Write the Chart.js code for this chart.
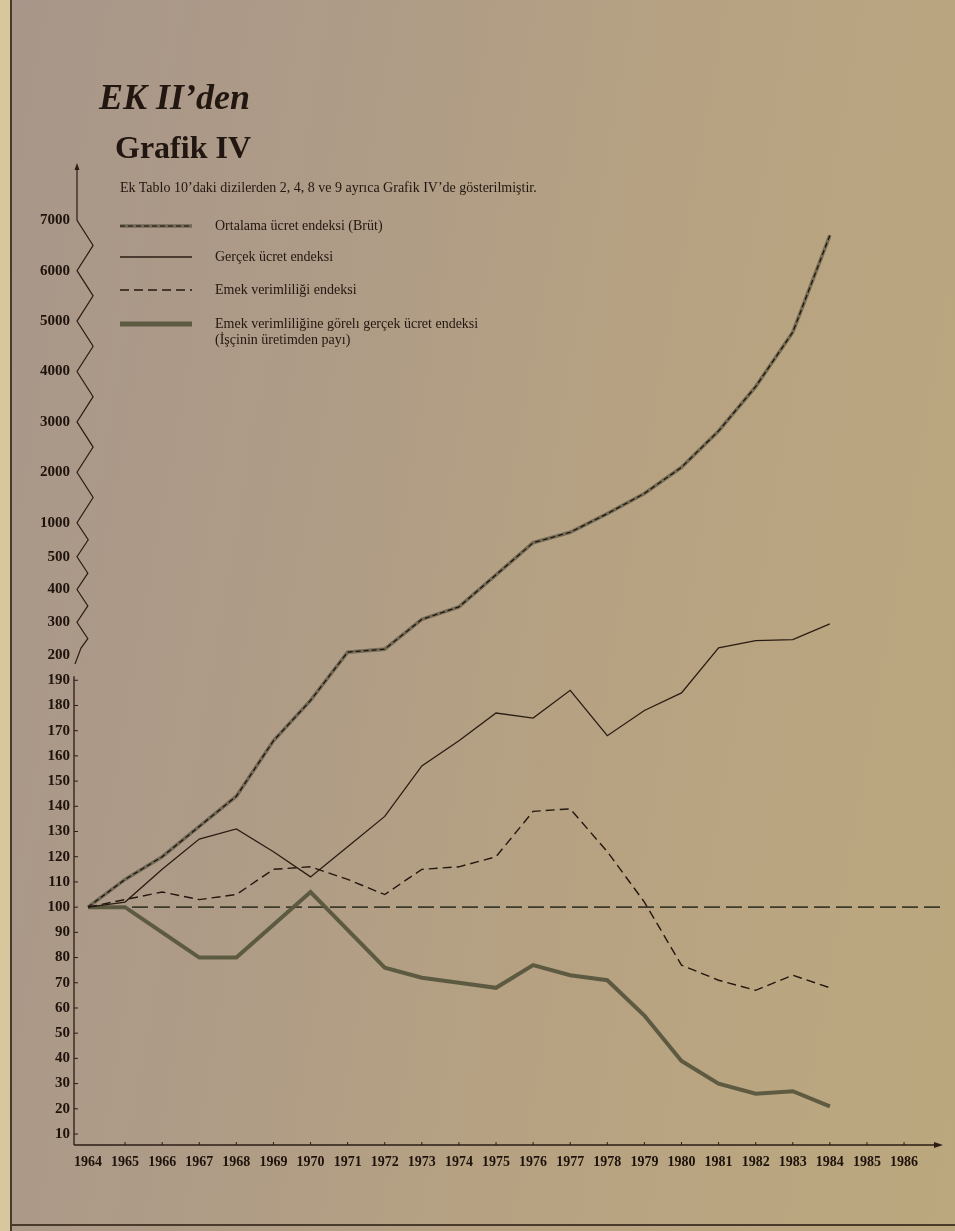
<!DOCTYPE html>
<html><head><meta charset="utf-8">
<script src="https://cdn.jsdelivr.net/npm/chart.js@4.4.1/dist/chart.umd.min.js"></script>
<style>
html,body{margin:0;padding:0;}
body{width:955px;height:1231px;overflow:hidden;position:relative;
 background:linear-gradient(100deg,#a8968a 0%,#ae9b87 30%,#b6a282 60%,#bca87e 100%);
 font-family:"Liberation Serif",serif;color:#221610;}
#strip{position:absolute;left:0;top:0;width:10px;height:1231px;background:#d8c69c;border-right:2px solid #4a3a2c;}
#bline{position:absolute;left:10px;right:0;top:1224px;border-top:2px solid #4a3a2c;}
canvas{position:absolute;left:0;top:0;}
.t{position:absolute;white-space:nowrap;line-height:1;}
#title{left:99px;top:79px;font-style:italic;font-weight:bold;font-size:36px;}
#grafik{left:115px;top:131px;font-weight:bold;font-size:32px;}
#sub{left:120px;top:181px;font-size:14px;}
#legend{position:absolute;left:120px;top:0;}
.li{position:absolute;left:0;white-space:nowrap;font-size:14px;line-height:16px;}
.li svg{position:absolute;left:0;}
.li span{position:absolute;left:95px;top:0;}
</style></head>
<body>
<div id="strip"></div><div id="bline"></div>
<canvas id="c" width="955" height="1231"></canvas>
<div class="t" id="title">EK II’den</div>
<div class="t" id="grafik">Grafik IV</div>
<div class="t" id="sub">Ek Tablo 10’daki dizilerden 2, 4, 8 ve 9 ayrıca Grafik IV’de gösterilmiştir.</div>
<div id="legend"></div>
<script>
// ---- data ----
const years = [1964,1965,1966,1967,1968,1969,1970,1971,1972,1973,1974,1975,1976,1977,1978,1979,1980,1981,1982,1983,1984];
const ortalamaBrut = [100,111,120,132,144,166,182,209,218,309,347,445,706,860,1180,1580,2100,2820,3700,4780,6700];
const gercekUcret = [100,102,115,127,131,122,112,124,136,156,166,177,175,186,168,178,185,222,244,247,295];
const emekVerim = [100,103,106,103,105,115,116,111,105,115,116,120,138,139,122,102,77,71,67,73,68];
const goreliUcret = [100,100,90,80,80,93,106,91,76,72,70,68,77,73,71,57,39,30,26,27,21];
const baseline = [100,100];
const xTickLabels = [1964,1965,1966,1967,1968,1969,1970,1971,1972,1973,1974,1975,1976,1977,1978,1979,1980,1981,1982,1983,1984,1985,1986];
const yTickValues = [10,20,30,40,50,60,70,80,90,100,110,120,130,140,150,160,170,180,190,200,300,400,500,1000,2000,3000,4000,5000,6000,7000];
const yTickLabels = yTickValues.map(String);
const legendLabels = ['Ortalama ücret endeksi (Brüt)','Gerçek ücret endeksi','Emek verimliliği endeksi',
  'Emek verimliliğine görelı gerçek ücret endeksi|(İşçinin üretimden payı)'];

// broken (piecewise) value axis definition
const axisBreaks = [[0,0],[200,20],[500,23.9],[1000,25.25],[7000,37.25]];
function toU(v){
  for(let i=0;i<axisBreaks.length-1;i++){
    const [v0,u0]=axisBreaks[i],[v1,u1]=axisBreaks[i+1];
    if(v<=v1||i===axisBreaks.length-2) return u0+(v-v0)/(v1-v0)*(u1-u0);
  }
}
const pts = arr => arr.map((v,i)=>({x:years[i],y:toU(v)}));

const styles = {
  ortalamaBase:{color:'rgba(78,74,56,0.62)',width:3.6,dash:[]},
  ortalamaDash:{color:'#1c120b',width:1.2,dash:[5,3]},
  gercek:{color:'#2a1c13',width:1.3,dash:[]},
  emek:{color:'#24170f',width:1.4,dash:[9,5]},
  goreli:{color:'rgba(88,86,62,0.95)',width:4,dash:[]},
  base:{color:'#3c3a2a',width:1.6,dash:[16,6]}
};
const ln = (label,data,s,order)=>({label,data,borderColor:s.color,borderWidth:s.width,borderDash:s.dash,
  pointRadius:0,tension:0,fill:false,order});

const X0min = 1963.65, Xmax = 1987.05;
const datasets = [
  ln('_base',[{x:years[0],y:toU(baseline[0])},{x:Xmax,y:toU(baseline[1])}],styles.base,6),
  ln(legendLabels[3],pts(goreliUcret),styles.goreli,5),
  ln(legendLabels[0],pts(ortalamaBrut),styles.ortalamaBase,4),
  ln('_ortDash',pts(ortalamaBrut),styles.ortalamaDash,3),
  ln(legendLabels[1],pts(gercekUcret),styles.gercek,2),
  ln(legendLabels[2],pts(emekVerim),styles.emek,1)
];

// legend (HTML text, samples from dataset styles)
const legendRows = [
  {label:legendLabels[0],sty:[styles.ortalamaBase,styles.ortalamaDash],y:226},
  {label:legendLabels[1],sty:[styles.gercek],y:257},
  {label:legendLabels[2],sty:[styles.emek],y:290},
  {label:legendLabels[3],sty:[{color:styles.goreli.color,width:5,dash:[]}],y:324}
];
const lg=document.getElementById('legend');
legendRows.forEach(r=>{
  const d=document.createElement('div');d.className='li';d.style.top=(r.y-8)+'px';
  const lines=r.sty.map(s=>`<line x1="0" y1="8" x2="72" y2="8" stroke="${s.color}" stroke-width="${s.width}" stroke-dasharray="${s.dash.join(' ')}"/>`).join('');
  d.innerHTML=`<svg width="74" height="16">${lines}</svg><span>${r.label.split('|').join('<br>')}</span>`;
  lg.appendChild(d);
});

const ink='#2b1d14';
const axisPlugin={
  id:'handAxis',
  afterDraw(chart){
    const {ctx,chartArea:a,scales:{x,y}}=chart;
    const X0=a.left-1;
    const py=v=>y.getPixelForValue(toU(v));
    ctx.save();
    ctx.strokeStyle=ink;ctx.fillStyle=ink;ctx.lineWidth=1.3;
    ctx.beginPath();ctx.moveTo(X0,a.bottom);ctx.lineTo(X0,py(190)-4);ctx.stroke();
    ctx.lineWidth=1;
    yTickValues.filter(v=>v<=190).forEach(v=>{ctx.beginPath();ctx.moveTo(X0,py(v));ctx.lineTo(X0+4,py(v));ctx.stroke();});
    // break + zigzag
    ctx.lineWidth=1.2;
    const up=yTickValues.filter(v=>v>=200);
    ctx.beginPath();
    ctx.moveTo(X0+1,py(200)+9);ctx.lineTo(X0+7,py(200)-7);
    for(let i=0;i<up.length-1;i++){
      const ya=py(up[i]),yb=py(up[i+1]),gap=ya-yb;
      ctx.lineTo(X0+4+gap*0.3,(ya+yb)/2);ctx.lineTo(X0+3,yb);
    }
    ctx.lineTo(X0+3,a.top+4);ctx.stroke();
    ctx.beginPath();ctx.moveTo(X0+3,a.top);ctx.lineTo(X0+0.5,a.top+7);ctx.lineTo(X0+5.5,a.top+7);ctx.closePath();ctx.fill();
    // x axis
    ctx.lineWidth=1.3;
    ctx.beginPath();ctx.moveTo(X0,a.bottom);ctx.lineTo(a.right-4,a.bottom);ctx.stroke();
    ctx.beginPath();ctx.moveTo(a.right,a.bottom);ctx.lineTo(a.right-9,a.bottom-3);ctx.lineTo(a.right-9,a.bottom+3);ctx.closePath();ctx.fill();
    ctx.lineWidth=1;
    xTickLabels.slice(1).forEach(t=>{const px=x.getPixelForValue(t);ctx.beginPath();ctx.moveTo(px,a.bottom);ctx.lineTo(px,a.bottom-3);ctx.stroke();});
    ctx.restore();
  }
};

new Chart(document.getElementById('c'),{
  type:'line',
  data:{datasets},
  options:{
    responsive:false,animation:false,devicePixelRatio:1,
    layout:{padding:{left:0,top:163,right:12,bottom:56}},
    plugins:{legend:{display:false},tooltip:{enabled:false},title:{display:false}},
    scales:{
      x:{type:'linear',min:X0min,max:Xmax,
        grid:{display:false,drawTicks:false},border:{display:false},
        afterBuildTicks:s=>{s.ticks=xTickLabels.map(v=>({value:v}));},
        afterFit:s=>{s.height=30;},
        ticks:{autoSkip:false,maxRotation:0,padding:9,color:'#1e130c',
          font:{family:'"Liberation Serif",serif',size:14,weight:'bold'},callback:v=>String(v)}},
      y:{type:'linear',min:0.564,max:39.52,
        grid:{display:false,drawTicks:false},border:{display:false},
        afterBuildTicks:s=>{s.ticks=yTickValues.map(v=>({value:toU(v)}));},
        afterFit:s=>{s.width=75;},
        ticks:{autoSkip:false,padding:5,color:'#1e130c',
          font:{family:'"Liberation Serif",serif',size:15,weight:'bold'},
          callback:(v,i)=>yTickLabels[i]}}
    }
  },
  plugins:[axisPlugin]
});
</script>
</body></html>
